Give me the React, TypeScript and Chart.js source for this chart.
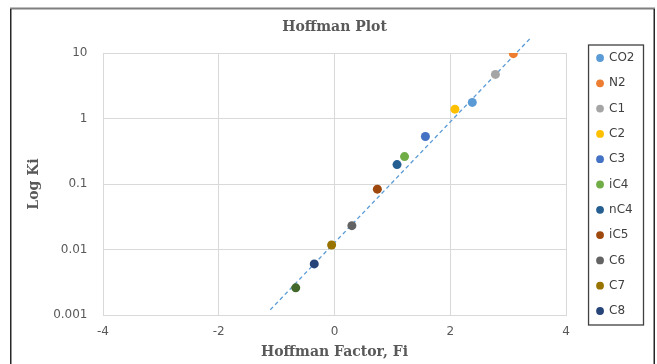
import React, { useEffect, useRef } from 'react';
import { Chart, registerables } from 'chart.js';

Chart.register(...registerables);

// ---- data ----
const componentLabels = ['CO2', 'N2', 'C1', 'C2', 'C3', 'iC4', 'nC4', 'iC5', 'C6', 'C7', 'C8', 'C9'];
const hoffmanFactors = [2.38, 3.09, 2.78, 2.08, 1.57, 1.21, 1.08, 0.74, 0.3, -0.05, -0.35, -0.67];
const kValues = [1.76, 9.76, 4.71, 1.39, 0.531, 0.262, 0.198, 0.0834, 0.0231, 0.0117, 0.00603, 0.0026];
const pointColors = ['#5B9BD5', '#ED7D31', '#A5A5A5', '#FFC000', '#4472C4', '#70AD47', '#255E91', '#9E480E', '#636363', '#997300', '#264478', '#43682B'];
const legendCount = 11;
const trendX = [-1.11, 3.4];
const trendY = [0.0012, 17.4];
const xTicks = [-4, -2, 0, 2, 4];
const yTicks = [0.001, 0.01, 0.1, 1, 10];
const yTickLabels = ['0.001', '0.01', '0.1', '1', '10'];

const GRID = '#D9D9D9';
const TEXT = '#595959';

const framePlugin = {
  id: 'frame',
  beforeDraw(chart: any) {
    const ctx = chart.ctx;
    ctx.save();
    ctx.strokeStyle = '#7F7F7F';
    ctx.lineWidth = 2;
    ctx.beginPath();
    ctx.moveTo(10, 8.5);
    ctx.lineTo(655, 8.5);
    ctx.stroke();
    ctx.strokeStyle = '#262626';
    ctx.lineWidth = 1.5;
    ctx.beginPath();
    ctx.moveTo(10.75, 9);
    ctx.lineTo(10.75, 364);
    ctx.moveTo(654.25, 9);
    ctx.lineTo(654.25, 364);
    ctx.stroke();
    ctx.restore();
  },
};

const legendBoxPlugin = {
  id: 'legendBox',
  afterDraw(chart: any) {
    const lg = chart.legend;
    if (!lg || !lg.legendHitBoxes || !lg.legendHitBoxes.length) return;
    const hb = lg.legendHitBoxes;
    const first = hb[0];
    const last = hb[hb.length - 1];
    let right = 0;
    hb.forEach((h: any) => { right = Math.max(right, h.left + h.width); });
    const left = first.left - 8.5;
    const top = first.top - 7;
    const bottom = last.top + last.height + 8;
    const ctx = chart.ctx;
    ctx.save();
    ctx.strokeStyle = '#404040';
    ctx.lineWidth = 1.3;
    ctx.strokeRect(left, top, right + 9 - left, bottom - top);
    ctx.restore();
  },
};

export default function App() {
  const ref = useRef<HTMLCanvasElement | null>(null);

  useEffect(() => {
    if (!ref.current) return;
    const pointSets = componentLabels.map((label, i) => ({
      label,
      data: [{ x: hoffmanFactors[i], y: kValues[i] }],
      backgroundColor: pointColors[i],
      borderColor: pointColors[i],
      borderWidth: 0,
      pointRadius: 4.5,
      pointStyle: 'circle',
      order: 0,
    }));
    const trendSet = {
      label: 'Trend',
      data: trendX.map((x, i) => ({ x, y: trendY[i] })),
      showLine: true,
      borderColor: '#5B9BD5',
      backgroundColor: '#5B9BD5',
      borderWidth: 1.3,
      borderDash: [4, 3],
      pointRadius: 0,
      clip: false,
      order: 1,
    };

    const chart = new Chart(ref.current, {
      type: 'scatter',
      data: { datasets: [...pointSets, trendSet] as any },
      options: {
        animation: false,
        responsive: false,
        layout: { padding: { left: 0, right: 12.5, top: 5, bottom: 0 } },
        plugins: {
          title: {
            display: true,
            text: 'Hoffman Plot',
            fullSize: false,
            color: TEXT,
            font: { family: 'DejaVu Serif', weight: 'bold', size: 14 },
            padding: { top: 14, bottom: 17.2 },
          },
          legend: {
            display: true,
            position: 'right',
            align: 'center',
            labels: {
              usePointStyle: true,
              pointStyle: 'circle',
              boxWidth: 6,
              boxHeight: 5.5,
              padding: 13.3,
              color: '#404040',
              font: { family: 'DejaVu Sans', size: 12 },
              filter: (item: any) => item.datasetIndex < legendCount,
            },
          },
          tooltip: { enabled: false },
        },
        scales: {
          x: {
            type: 'linear',
            position: 'bottom',
            min: xTicks[0],
            max: xTicks[xTicks.length - 1],
            afterBuildTicks: (s: any) => { s.ticks = xTicks.map((v) => ({ value: v })); },
            afterFit: (s: any) => { s.height = 49; },
            grid: { color: GRID, lineWidth: 1, drawTicks: false },
            border: { color: GRID },
            ticks: {
              color: TEXT,
              padding: 10,
              font: { family: 'DejaVu Sans', size: 12 },
              maxRotation: 0,
            },
            title: {
              display: true,
              text: 'Hoffman Factor, Fi',
              color: TEXT,
              font: { family: 'DejaVu Serif', weight: 'bold', size: 14 },
              padding: { top: 0, bottom: 3 },
            },
          },
          y: {
            type: 'logarithmic',
            position: 'left',
            min: yTicks[0],
            max: yTicks[yTicks.length - 1],
            afterBuildTicks: (s: any) => { s.ticks = yTicks.map((v) => ({ value: v })); },
            afterFit: (s: any) => { s.width = 103; },
            grid: { color: GRID, lineWidth: 1, drawTicks: false },
            border: { color: GRID },
            ticks: {
              color: TEXT,
              padding: 15.5,
              font: { family: 'DejaVu Sans', size: 12 },
              callback: (v: any) => {
                const idx = yTicks.findIndex((t) => Math.abs(t - v) < t * 1e-6);
                return idx >= 0 ? yTickLabels[idx] : '';
              },
            },
            title: {
              display: true,
              text: 'Log Ki',
              color: TEXT,
              font: { family: 'DejaVu Serif', weight: 'bold', size: 14 },
              padding: { top: 25.6, bottom: 0 },
            },
          },
          spacer: {
            type: 'linear',
            position: 'right',
            display: true,
            afterFit: (s: any) => { s.width = 17.7; },
            grid: { display: false, drawTicks: false },
            border: { display: false },
            ticks: { display: false },
            title: { display: false },
          },
        },
      } as any,
      plugins: [framePlugin, legendBoxPlugin],
    });
    return () => chart.destroy();
  }, []);

  return (
    <div style={{ position: 'fixed', left: 0, top: 0, width: 657, height: 364, background: '#fff' }}>
      <canvas ref={ref} width={657} height={364} style={{ display: 'block', width: 657, height: 364 }} />
    </div>
  );
}
